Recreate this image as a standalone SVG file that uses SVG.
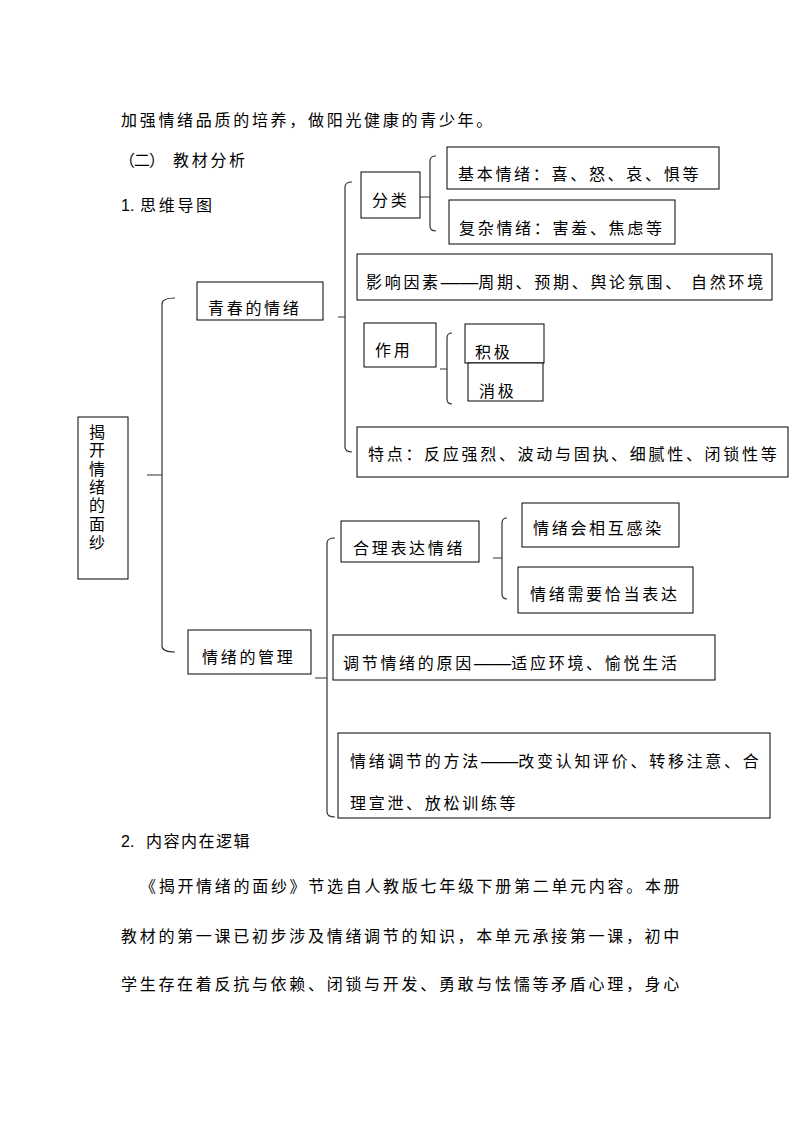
<svg xmlns="http://www.w3.org/2000/svg" width="794" height="1123" viewBox="0 0 794 1123">
<style>
  .t { font-family: "Liberation Sans", "Noto Sans CJK SC", sans-serif; font-size: 16px; fill: #000; letter-spacing: 2.7px; }
  .d { font-family: "Liberation Sans", sans-serif; letter-spacing: 0; }
  .box { fill: #fff; stroke: #000; stroke-width: 1; }
  .br { fill: none; stroke: #333; stroke-width: 1.2; }
</style>
<rect width="794" height="1123" fill="#fff"/>

<g id="body-top">
  <text class="t" x="121" y="126">加强情绪品质的培养，做阳光健康的青少年。</text>
  <text class="t" x="119" y="166"><tspan style="letter-spacing:-1px">（二）</tspan><tspan x="173">教材分析</tspan></text>
  <text class="t" x="121" y="211"><tspan style="letter-spacing:0">1.</tspan><tspan x="140">思维导图</tspan></text>
</g>

<g id="connectors">
  <path class="br" d="M175,298 Q162,298 162,304 V646 Q162,652 175,652 M147,475 H162"/>
  <path class="br" d="M352,182 Q345,182 345,187 V447 Q345,452 352,452 M338,317 H345"/>
  <path class="br" d="M436,156 Q430,156 430,161 V226 Q430,231 436,231 M420,197 H430"/>
  <path class="br" d="M452,333 Q447,333 447,338 V399 Q447,404 452,404 M440,369 H447"/>
  <path class="br" d="M507,518 Q502,518 502,523 V594 Q502,599 507,599 M493,558 H502"/>
  <path class="br" d="M335,538 Q327,538 327,543 V812 Q327,817 335,817 M315,678 H327"/>
</g>

<g id="root">
  <rect class="box" x="78" y="417" width="50" height="162"/>
  <text class="t" text-anchor="middle" style="letter-spacing:0">
    <tspan x="97" y="438">揭</tspan><tspan x="97" y="456.3">开</tspan><tspan x="97" y="474.6">情</tspan><tspan x="97" y="492.9">绪</tspan><tspan x="97" y="511.2">的</tspan><tspan x="97" y="529.5">面</tspan><tspan x="97" y="547.8">纱</tspan>
  </text>
</g>

<g id="qingchun">
  <rect class="box" x="197" y="282" width="126" height="38"/>
  <text class="t" x="208" y="314">青春的情绪</text>
</g>

<g id="fenlei">
  <rect class="box" x="361" y="172" width="59" height="46"/>
  <text class="t" x="372" y="206">分类</text>
</g>

<g id="jiben">
  <rect class="box" x="447" y="147" width="272" height="42"/>
  <text class="t" x="458" y="180">基本情绪：喜、怒、哀、惧等</text>
</g>

<g id="fuza">
  <rect class="box" x="449" y="200" width="226" height="44"/>
  <text class="t" x="459" y="234">复杂情绪：害羞、焦虑等</text>
</g>

<g id="yingxiang">
  <rect class="box" x="357" y="254" width="415" height="46"/>
  <text class="t" x="366" y="288">影响因素<tspan class="d" textLength="37.4" lengthAdjust="spacingAndGlyphs">——</tspan>周期、预期、舆论氛围、 自然环境</text>
</g>

<g id="zuoyong">
  <rect class="box" x="364" y="323" width="72" height="44"/>
  <text class="t" x="375" y="356">作用</text>
</g>

<g id="jiji">
  <rect class="box" x="465" y="324" width="79" height="39"/>
  <text class="t" x="475" y="358">积极</text>
</g>

<g id="xiaoji">
  <rect class="box" x="468" y="363" width="75" height="38"/>
  <text class="t" x="479" y="397">消极</text>
</g>

<g id="tedian">
  <rect class="box" x="357" y="427" width="431" height="50"/>
  <text class="t" x="368" y="460">特点：反应强烈、波动与固执、细腻性、闭锁性等</text>
</g>

<g id="guanli">
  <rect class="box" x="188" y="630" width="123" height="44"/>
  <text class="t" x="202" y="663">情绪的管理</text>
</g>

<g id="heli">
  <rect class="box" x="341" y="521" width="138" height="41"/>
  <text class="t" x="353" y="554">合理表达情绪</text>
</g>

<g id="ganran">
  <rect class="box" x="522" y="503" width="157" height="44"/>
  <text class="t" x="533" y="534">情绪会相互感染</text>
</g>

<g id="qiadang">
  <rect class="box" x="518" y="567" width="175" height="46"/>
  <text class="t" x="530" y="600">情绪需要恰当表达</text>
</g>

<g id="yuanyin">
  <rect class="box" x="333" y="635" width="382" height="45"/>
  <text class="t" x="343" y="669">调节情绪的原因<tspan class="d" textLength="37.4" lengthAdjust="spacingAndGlyphs">——</tspan>适应环境、愉悦生活</text>
</g>

<g id="fangfa">
  <rect class="box" x="338" y="733" width="432" height="85"/>
  <text class="t" x="350" y="767">情绪调节的方法<tspan class="d" textLength="37.4" lengthAdjust="spacingAndGlyphs">——</tspan>改变认知评价、转移注意、合</text>
  <text class="t" x="350" y="809">理宣泄、放松训练等</text>
</g>

<g id="body-bottom">
  <text class="t" x="121" y="847"><tspan style="letter-spacing:0">2.</tspan><tspan x="146" style="letter-spacing:1.5px">内容内在逻辑</tspan></text>
  <text class="t" x="140" y="892">《揭开情绪的面纱》节选自人教版七年级下册第二单元内容。本册</text>
  <text class="t" x="121" y="942">教材的第一课已初步涉及情绪调节的知识，本单元承接第一课，初中</text>
  <text class="t" x="121" y="990">学生存在着反抗与依赖、闭锁与开发、勇敢与怯懦等矛盾心理，身心</text>
</g>
</svg>
